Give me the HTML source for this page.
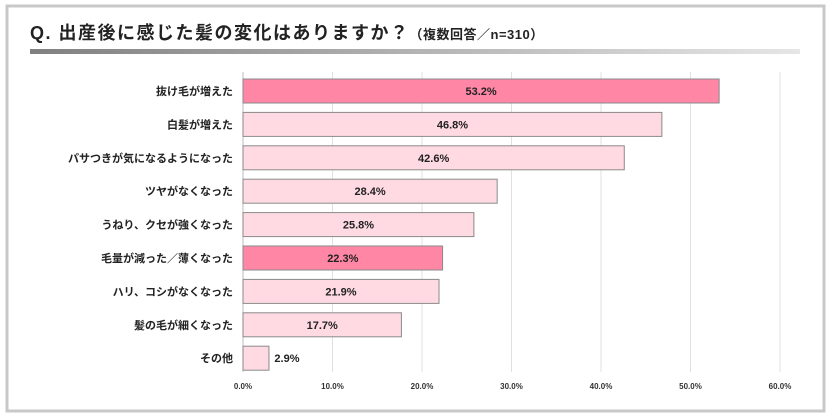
<!DOCTYPE html>
<html><head><meta charset="utf-8"><style>
body{margin:0;background:#fff;}
svg{display:block;font-family:"Liberation Sans","Noto Sans CJK JP",sans-serif;}
</style></head><body>
<svg id="c" width="832" height="420">
<defs><linearGradient id="g" x1="0" x2="1"><stop offset="0" stop-color="#808080"/><stop offset="1" stop-color="#e6e6e6"/></linearGradient></defs>
<rect x="7" y="6" width="817" height="405" fill="#fff" stroke="#c8c8c8" stroke-width="3"/>
<text x="30" y="39" font-size="18" font-weight="bold" fill="#222" letter-spacing="1.5">Q. 出産後に感じた髪の変化はありますか？<tspan font-size="13" letter-spacing="0.5">（複数回答／n=310）</tspan></text>
<rect x="30" y="49" width="770" height="5" fill="url(#g)"/>
<g id="grid"></g><g id="bars"></g>
</svg>
<script>
const categories=["抜け毛が増えた","白髪が増えた","パサつきが気になるようになった","ツヤがなくなった","うねり、クセが強くなった","毛量が減った／薄くなった","ハリ、コシがなくなった","髪の毛が細くなった","その他"];
const values=[53.2,46.8,42.6,28.4,25.8,22.3,21.9,17.7,2.9];
const highlight=[1,0,0,0,0,1,0,0,0];
const ticks=[0,10,20,30,40,50,60];
const NS="http://www.w3.org/2000/svg";
const x=v=>243+v*(537/60);
const y=i=>91+i*33.4;
function mk(t,a,p){const e=document.createElementNS(NS,t);for(const k in a)e.setAttribute(k,a[k]);p.appendChild(e);return e;}
const grid=document.getElementById('grid'),bars=document.getElementById('bars');
ticks.forEach(t=>{
 const l=mk('line',{x1:x(t),x2:x(t),y1:72,y2:372,stroke:t===0?'#bbb':'#e0e0e0','stroke-width':1},grid);
 
 
 const tx=mk('text',{x:x(t),y:389,'font-size':8,'font-weight':'bold','text-anchor':'middle',fill:'#333'},grid);
 tx.textContent=t.toFixed(1)+'%';
 
 
});
categories.forEach((c,i)=>{
 const cy=y(i);
 const lb=mk('text',{x:233,y:cy+4,'font-size':11,'font-weight':'bold','text-anchor':'end',fill:'#222'},bars);
 lb.textContent=c;
 
 
 const r=mk('rect',{x:x(0),y:cy-12,width:x(values[i])-x(0),height:24,fill:highlight[i]?'#ff87a5':'#ffdae3',stroke:'#8a8a8a','stroke-width':1},bars);
 
 
 const w=x(values[i])-x(0);
 const vt=mk('text',{x:w>40?x(0)+w/2:x(values[i])+18,y:cy+4,'font-size':11,'font-weight':'bold','text-anchor':'middle',fill:'#222'},bars);
 vt.textContent=values[i].toFixed(1)+'%';
 
 
});
</script>
</body></html>
